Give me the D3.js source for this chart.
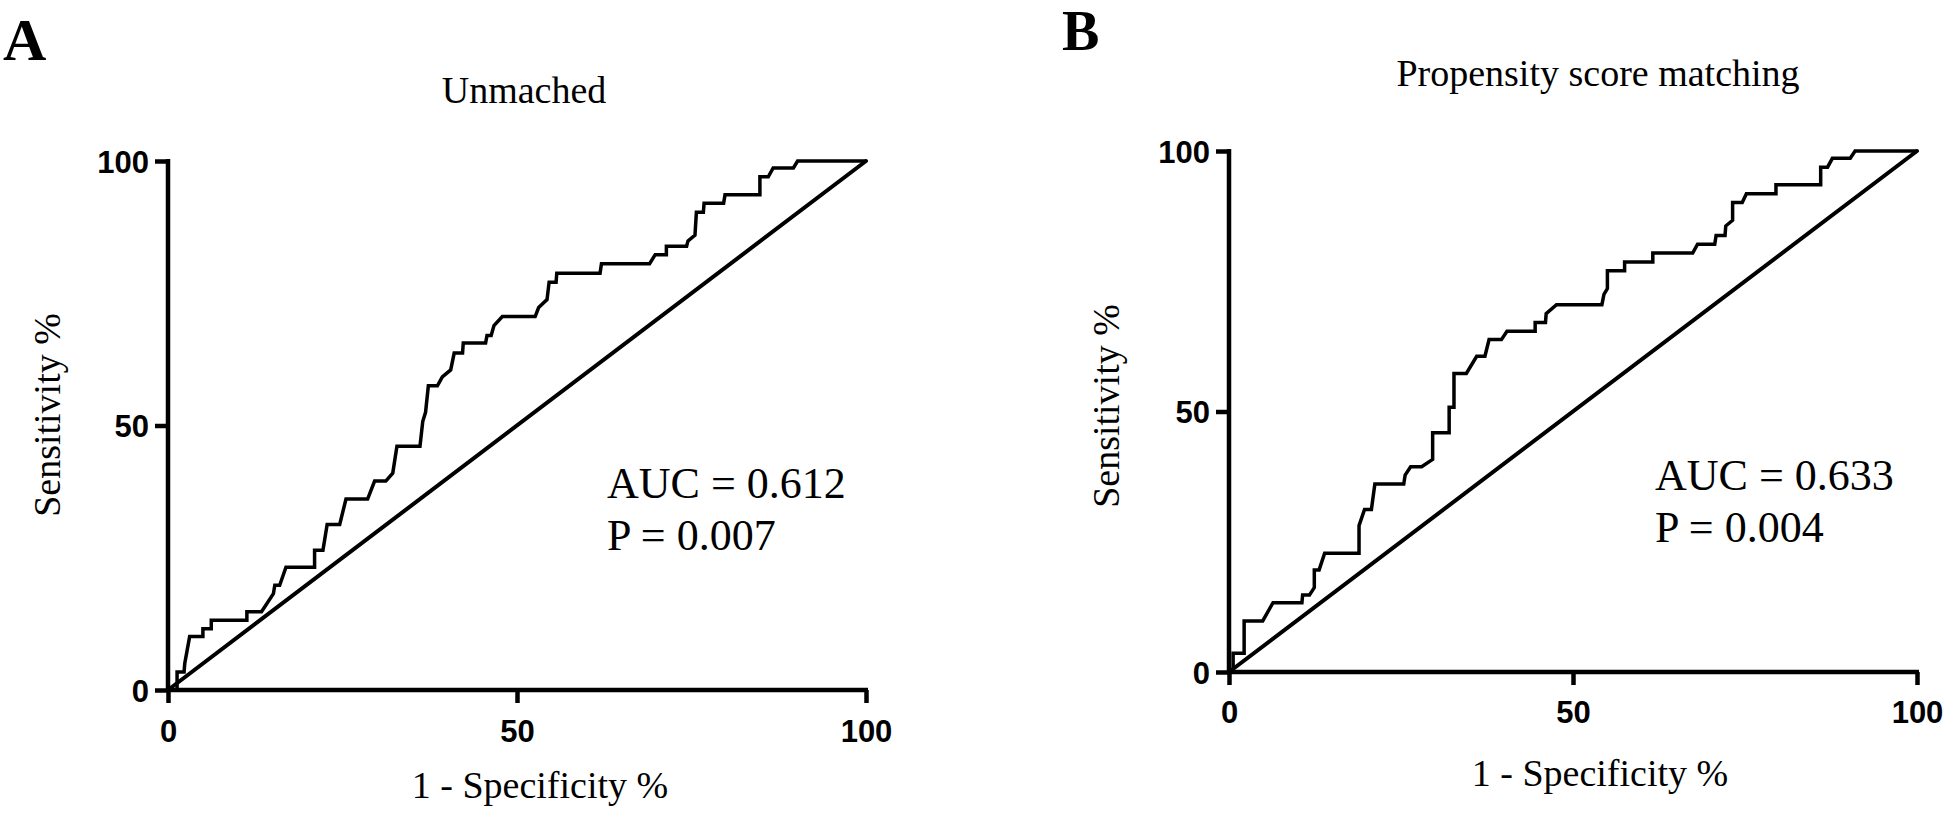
<!DOCTYPE html>
<html>
<head>
<meta charset="utf-8">
<script src="https://cdn.jsdelivr.net/npm/d3@7"></script>
<style>
  html, body { margin: 0; padding: 0; background: #fff; }
  svg { display: block; }
</style>
</head>
<body>
<svg id="chart" width="1946" height="819"></svg>
<script>
// ---------- data ----------
const panelLetters = ["A", "B"];
const panelTitles = ["Unmached", "Propensity score matching"];
const xAxisLabel = "1 - Specificity %";
const yAxisLabel = "Sensitivity %";
const tickValues = [0, 50, 100];
const aucLabels = ["AUC = 0.612", "AUC = 0.633"];
const pLabels = ["P = 0.007", "P = 0.004"];

// reference (chance) line
const refX = [0, 100];
const refY = [0, 100];

// Panel A – unmatched ROC curve (1 - specificity %, sensitivity %)
const fprA = [0, 1.3, 1.3, 2.3, 2.4, 3.1, 5.0, 5.0, 6.2, 6.2, 11.3, 11.3, 13.4, 15.1, 15.3, 16.0, 16.9, 21.0, 21.0, 22.2, 22.8, 24.6, 25.5, 28.6, 29.6, 31.2, 32.2, 32.8, 36.1, 36.5, 36.9, 37.3, 38.6, 39.3, 40.5, 41.0, 42.2, 42.3, 45.5, 45.7, 46.3, 46.7, 47.9, 52.6, 53.1, 54.3, 54.6, 55.6, 55.7, 61.9, 62.1, 69.0, 69.8, 71.4, 71.4, 74.3, 74.5, 75.5, 75.7, 76.7, 76.8, 79.6, 79.8, 84.8, 84.8, 86.0, 86.7, 89.6, 90.2, 100];
const tprA = [0, 0, 3.4, 3.4, 5.0, 10.1, 10.1, 11.6, 11.6, 13.2, 13.2, 14.8, 14.8, 18.2, 19.8, 19.8, 23.2, 23.2, 26.4, 26.4, 31.3, 31.3, 36.1, 36.1, 39.5, 39.5, 41.0, 46.1, 46.1, 50.8, 52.5, 57.5, 57.5, 59.2, 60.5, 63.7, 63.7, 65.6, 65.6, 67.0, 67.0, 68.9, 70.6, 70.6, 72.3, 73.8, 77.1, 77.1, 78.8, 78.8, 80.6, 80.6, 82.3, 82.3, 83.9, 83.9, 84.9, 86.0, 90.3, 90.3, 92.0, 92.0, 93.6, 93.6, 97.0, 97.0, 98.7, 98.7, 100, 100];

// Panel B – propensity-score-matched ROC curve
const fprB = [0, 0.6, 0.6, 2.2, 2.2, 4.9, 6.4, 10.6, 10.7, 11.7, 12.4, 12.4, 13.1, 13.9, 18.9, 18.9, 19.7, 20.7, 21.2, 25.4, 25.6, 26.4, 28.0, 29.6, 29.6, 32.0, 32.0, 32.7, 32.7, 34.5, 36.0, 37.2, 37.8, 39.6, 40.4, 44.5, 44.5, 46.0, 46.1, 47.6, 54.2, 54.5, 55.0, 55.0, 57.5, 57.5, 61.6, 61.6, 67.4, 68.1, 70.6, 70.8, 72.1, 72.2, 73.2, 73.2, 74.6, 75.2, 79.5, 79.5, 86.0, 86.0, 87.0, 87.7, 90.3, 91.0, 100];
const tprB = [0, 0, 3.6, 3.6, 9.8, 9.8, 13.3, 13.3, 14.8, 14.8, 16.2, 19.6, 19.6, 22.8, 22.8, 28.1, 31.2, 31.2, 36.1, 36.1, 37.8, 39.4, 39.4, 40.8, 45.9, 45.9, 50.8, 50.8, 57.3, 57.3, 60.6, 60.6, 63.8, 63.8, 65.4, 65.4, 67.1, 67.1, 68.8, 70.5, 70.5, 72.5, 73.6, 77.0, 77.0, 78.7, 78.7, 80.4, 80.4, 82.1, 82.1, 83.8, 83.8, 85.6, 86.7, 90.1, 90.1, 91.8, 91.8, 93.5, 93.5, 96.9, 96.9, 98.6, 98.6, 100, 100];

// ---------- layout ----------
const svg = d3.select("#chart");
const serif = "'Liberation Serif', 'Times New Roman', serif";
const sans = "'Liberation Sans', Arial, sans-serif";

const panels = [
  { fpr: fprA, tpr: tprA, x0: 168, x1: 866, y0: 690, y1: 161,
    letter: { x: 3, y: 60, size: 60 }, title: { x: 524, y: 103 },
    ylab: { x: 60, y: 415 }, xlab: { x: 540, y: 798 },
    auc: { x: 607, y: 498 }, p: { y: 550 }, tickLabelDy: 52 },
  { fpr: fprB, tpr: tprB, x0: 1229, x1: 1917, y0: 672, y1: 151,
    letter: { x: 1062, y: 50, size: 56 }, title: { x: 1598, y: 86 },
    ylab: { x: 1119, y: 406 }, xlab: { x: 1600, y: 786 },
    auc: { x: 1655, y: 490 }, p: { y: 542 }, tickLabelDy: 51 }
];

panels.forEach((p, i) => {
  const x = d3.scaleLinear().domain([0, 100]).range([p.x0, p.x1]);
  const y = d3.scaleLinear().domain([0, 100]).range([p.y0, p.y1]);
  const g = svg.append("g");

  // panel letter
  g.append("text")
    .attr("x", p.letter.x).attr("y", p.letter.y)
    .attr("font-family", serif).attr("font-weight", "bold")
    .attr("font-size", p.letter.size).attr("fill", "#000")
    .text(panelLetters[i]);

  // title
  g.append("text")
    .attr("x", p.title.x).attr("y", p.title.y)
    .attr("text-anchor", "middle")
    .attr("font-family", serif).attr("font-size", 38).attr("fill", "#000")
    .text(panelTitles[i]);

  // x axis
  const xAxis = d3.axisBottom(x).tickValues(tickValues).tickSize(13).tickSizeOuter(0).tickFormat(d3.format("d"));
  const gx = g.append("g").attr("transform", `translate(0,${p.y0})`).call(xAxis);
  gx.select(".domain").attr("stroke", "#000").attr("stroke-width", 4.5)
    .attr("d", `M${p.x0 - 2},0H${p.x1 + 2}`);
  gx.selectAll(".tick line").attr("stroke", "#000").attr("stroke-width", 4.5);
  gx.selectAll(".tick text")
    .attr("y", p.tickLabelDy).attr("dy", 0)
    .attr("font-family", sans).attr("font-weight", "bold")
    .attr("font-size", 31).attr("fill", "#000");

  // y axis
  const yAxis = d3.axisLeft(y).tickValues(tickValues).tickSize(13).tickSizeOuter(0).tickFormat(d3.format("d"));
  const gy = g.append("g").attr("transform", `translate(${p.x0},0)`).call(yAxis);
  gy.select(".domain").attr("stroke", "#000").attr("stroke-width", 4.5)
    .attr("d", `M0,${p.y0 + 2}V${p.y1 - 2}`);
  gy.selectAll(".tick line").attr("stroke", "#000").attr("stroke-width", 4.5);
  gy.selectAll(".tick text")
    .attr("x", -19).attr("dy", "0.36em")
    .attr("font-family", sans).attr("font-weight", "bold")
    .attr("font-size", 31).attr("fill", "#000");

  // axis labels
  g.append("text")
    .attr("x", p.xlab.x).attr("y", p.xlab.y)
    .attr("text-anchor", "middle")
    .attr("font-family", serif).attr("font-size", 38).attr("fill", "#000")
    .text(xAxisLabel);
  g.append("text")
    .attr("transform", `translate(${p.ylab.x},${p.ylab.y}) rotate(-90)`)
    .attr("text-anchor", "middle")
    .attr("font-family", serif).attr("font-size", 38).attr("fill", "#000")
    .text(yAxisLabel);

  // reference diagonal
  const refPts = refX.map((v, k) => [v, refY[k]]);
  g.append("path")
    .datum(refPts)
    .attr("fill", "none").attr("stroke", "#000").attr("stroke-width", 4)
    .attr("stroke-linecap", "round")
    .attr("d", d3.line().x(d => x(d[0])).y(d => y(d[1])));

  // ROC curve
  const pts = p.fpr.map((v, k) => [v, p.tpr[k]]);
  g.append("path")
    .datum(pts)
    .attr("fill", "none").attr("stroke", "#000").attr("stroke-width", 3.5)
    .attr("stroke-linejoin", "miter")
    .attr("d", d3.line().x(d => x(d[0])).y(d => y(d[1])));

  // AUC and P annotations
  g.append("text")
    .attr("x", p.auc.x).attr("y", p.auc.y)
    .attr("font-family", serif).attr("font-size", 44).attr("fill", "#000")
    .text(aucLabels[i]);
  g.append("text")
    .attr("x", p.auc.x).attr("y", p.p.y)
    .attr("font-family", serif).attr("font-size", 44).attr("fill", "#000")
    .text(pLabels[i]);
});
</script>
</body>
</html>
